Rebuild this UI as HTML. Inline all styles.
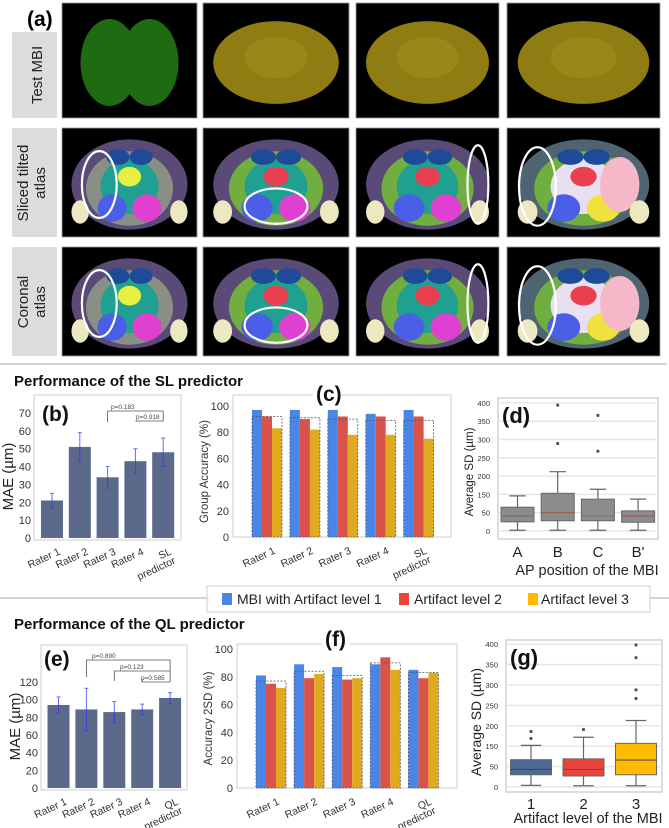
<!DOCTYPE html>
<html><head><meta charset="utf-8">
<style>
html,body{margin:0;padding:0;background:#fff;}
svg{display:block;font-family:"Liberation Sans",sans-serif;}
</style></head>
<body>
<svg id="fig" width="669" height="828" viewBox="0 0 669 828" xmlns="http://www.w3.org/2000/svg">
<!-- Panel (a) -->
<g id="panelA">
<text x="27" y="26" font-size="21" font-weight="bold">(a)</text>
<rect x="12" y="32" width="45" height="86" fill="#dcdcdc"/>
<text transform="translate(42,75) rotate(-90)" text-anchor="middle" font-size="15" fill="#222">Test MBI</text>
<rect x="12" y="128" width="45" height="109" fill="#dcdcdc"/>
<text transform="translate(28,183) rotate(-90)" text-anchor="middle" font-size="15" fill="#222">Sliced tilted</text>
<text transform="translate(45,183) rotate(-90)" text-anchor="middle" font-size="15" fill="#222">atlas</text>
<rect x="12" y="247" width="45" height="109" fill="#dcdcdc"/>
<text transform="translate(28,302) rotate(-90)" text-anchor="middle" font-size="15" fill="#222">Coronal</text>
<text transform="translate(45,302) rotate(-90)" text-anchor="middle" font-size="15" fill="#222">atlas</text>
</g>
<line x1="0" y1="364" x2="667" y2="364" stroke="#bbb" stroke-width="1.2"/>
<text x="14" y="386" font-size="15" font-weight="bold" fill="#111">Performance of the SL predictor</text>
<g id="legend">
<line x1="0" y1="598" x2="207" y2="598" stroke="#bbb" stroke-width="1.2"/>
<line x1="650" y1="598" x2="669" y2="598" stroke="#bbb" stroke-width="1.2"/>
<rect x="207" y="586" width="443" height="26" fill="#fff" stroke="#ccc"/>
<rect x="222" y="593" width="10" height="12" fill="#4a86e8"/>
<text x="237" y="604" font-size="14" fill="#222">MBI with Artifact level 1</text>
<rect x="399" y="593" width="10" height="12" fill="#e8453c"/>
<text x="414" y="604" font-size="14" fill="#222">Artifact level 2</text>
<rect x="528" y="593" width="10" height="12" fill="#ffbb00"/>
<text x="541" y="604" font-size="14" fill="#222">Artifact level 3</text>
</g>
<text x="14" y="629" font-size="15" font-weight="bold" fill="#111">Performance of the QL predictor</text>
<g id="charts"></g>
</svg>
<script>
// ---------- data ----------
const raters = ["Rater 1","Rater 2","Rater 3","Rater 4"];
const slMae = [21, 51, 34, 43, 48];
const slMaeErr = [4, 8, 6, 7, 8];
const slAccL1 = [97, 97, 97, 94, 97];
const slAccL2 = [92, 90, 92, 92, 92];
const slAccL3 = [83, 82, 78, 78, 75];
const slAccGroup = [92, 91, 90, 89, 89];
const qlMae = [94, 89, 86, 89, 102];
const qlMaeErr = [9, 24, 12, 6, 6];
const qlAccL1 = [81, 89, 87, 89, 85];
const qlAccL2 = [75, 79, 78, 94, 79];
const qlAccL3 = [72, 82, 79, 85, 83];
const qlAccGroup = [77, 84, 81, 90, 83];
const sdTickLabels = ["0","50","150","200","250","300","350","400"];
const apCats = ["A","B","C","B'"];
// box stats in tick-index units (x50): [min,q1,med,q3,max]
const apMin = [2, 2, 2, 2];
const apQ1 = [25, 28, 28, 24];
const apMed = [41, 50, 41, 41];
const apQ3 = [65, 103, 87, 55];
const apMax = [96, 162, 114, 87];
const apOut = [[], [239, 344], [218, 316], []];
const artCats = ["1","2","3"];
const artMin = [4, 3, 3];
const artQ1 = [30, 27, 30];
const artMed = [43, 43, 66];
const artQ3 = [67, 69, 107];
const artMax = [102, 122, 163];
const artOut = [[119, 136], [141], [217, 238, 317, 348]];

const NS = "http://www.w3.org/2000/svg";
const root = document.getElementById("charts");
function mk(tag, attrs, parent, txt){
  const e = document.createElementNS(NS, tag);
  for (const k in attrs) e.setAttribute(k, attrs[k]);
  if (txt !== undefined) e.textContent = txt;
  (parent || root).appendChild(e);
  return e;
}

// ---------- brain images (panel a) ----------
const pa = document.getElementById("panelA");
const cols = [[62,197],[203,349],[356,499],[507,660]];
const rows = [[3,118],[128,237],[247,356]];
rows.forEach((r, ri) => cols.forEach((c, ci) => {
  const g = mk("g", {}, pa);
  
  
  mk("rect", {x:c[0], y:r[0], width:c[1]-c[0], height:r[1]-r[0], fill:"#000", stroke:"#999", "stroke-width":0.8}, g);
  const cx = (c[0]+c[1])/2, cy = (r[0]+r[1])/2 + 2;
  const w = (c[1]-c[0])*0.43, h = (r[1]-r[0])*0.36;
  if (ri === 0) {
    const col = ci === 0 ? "#1f6b12" : "#8f7d14";
    if (ci === 0) {
      mk("ellipse", {cx:cx-20, cy:cy, rx:w*0.5, ry:h*1.05, fill:col}, g);
      mk("ellipse", {cx:cx+20, cy:cy, rx:w*0.5, ry:h*1.05, fill:col}, g);
    } else {
      mk("ellipse", {cx:cx, cy:cy, rx:w*1.0, ry:h*1.0, fill:col}, g);
      mk("ellipse", {cx:cx, cy:cy-5, rx:w*0.5, ry:h*0.5, fill:"#a08c18", opacity:0.7}, g);
    }
  } else {
    mk("ellipse", {cx:cx, cy:cy, rx:w, ry:h*1.15, fill: ci===3 ? "#4e6470" : "#5a4a78"}, g);
    mk("ellipse", {cx:cx, cy:cy+4, rx:w*0.75, ry:h*0.95, fill: ci===0 ? "#8a8f86" : "#6fae3f"}, g);
    mk("ellipse", {cx:cx, cy:cy+2, rx:w*0.5, ry:h*0.7, fill: ci===3 ? "#e8dff0" : "#1fa090"}, g);
    mk("ellipse", {cx:cx-w*0.3, cy:cy+h*0.6, rx:w*0.25, ry:h*0.35, fill:"#4a5ee8"}, g);
    mk("ellipse", {cx:cx+w*0.3, cy:cy+h*0.6, rx:w*0.25, ry:h*0.35, fill: ci===3 ? "#f0e040" : "#e040d0"}, g);
    mk("ellipse", {cx:cx, cy:cy-h*0.2, rx:w*0.2, ry:h*0.25, fill: ci===0 ? "#e6f040" : "#e84050"}, g);
    mk("ellipse", {cx:cx-w*0.2, cy:cy-h*0.7, rx:w*0.2, ry:h*0.2, fill:"#1e4a9a"}, g);
    mk("ellipse", {cx:cx+w*0.2, cy:cy-h*0.7, rx:w*0.2, ry:h*0.2, fill:"#1e4a9a"}, g);
    if (ci === 3) mk("ellipse", {cx:cx+w*0.55, cy:cy, rx:w*0.3, ry:h*0.7, fill:"#f6b8c8"}, g);
    mk("ellipse", {cx:cx-w*0.85, cy:cy+h*0.7, rx:w*0.15, ry:h*0.3, fill:"#ece8c0"}, g);
    mk("ellipse", {cx:cx+w*0.85, cy:cy+h*0.7, rx:w*0.15, ry:h*0.3, fill:"#ece8c0"}, g);
    // white highlight ellipse
    const ell = [[-0.52,0,0.3,0.85],[0,0.55,0.5,0.45],[0.82,0,0.17,1.0],[-0.7,0.05,0.28,1.0]][ci];
    mk("ellipse", {cx:cx+w*ell[0], cy:cy+h*ell[1], rx:w*ell[2], ry:h*ell[3], fill:"none", stroke:"#fff", "stroke-width":2.2}, g);
  }
}));

// ---------- bar chart (MAE) ----------
function maeChart(o){
  const g = mk("g", {});
  
  
  const y = v => o.y0 - (v - 0) * o.pxPer;
  mk("rect", {x:o.fx0, y:o.fy0, width:o.fx1-o.fx0, height:o.y0-o.fy0+2, fill:"none", stroke:"#ccc", "stroke-width":1}, g);
  o.ticks.forEach(t => {
    const tl = mk("text", {x:o.fx0-3, y:y(t)+4, "text-anchor":"end", "font-size":11, fill:"#333"}, g, String(t));
    
    
  });
  const yt = mk("text", {transform:`translate(${o.fx0-21},${(o.fy0+o.y0)/2+10}) rotate(-90)`, "text-anchor":"middle", "font-size":15, fill:"#222"}, g, "MAE (µm)");
  
  
  o.vals.forEach((v, i) => {
    const cx = o.c0 + i * o.step;
    const b = mk("rect", {x:cx-11, y:y(v), width:22, height:o.y0-y(v), fill:"#5b6a8a"}, g);
    
    
    const e = o.errs[i];
    const el = mk("path", {d:`M${cx},${y(v+e)}V${y(v-e)}M${cx-2},${y(v+e)}H${cx+2}M${cx-2},${y(v-e)}H${cx+2}`, stroke:"#3535ee", "stroke-width":1, fill:"none", opacity:0.75}, g);
    
    
    const lines = o.cats[i].split("\n");
    lines.forEach((ln, li) => {
      const t = mk("text", {transform:`translate(${cx+9+li*4},${o.y0+16+li*9}) rotate(-25)`, "text-anchor":"end", "font-size":10.5, fill:"#333"}, g, ln);
      
      
    });
  });
  const lt = mk("text", {x:o.lx, y:o.ly, "font-size":21, "font-weight":"bold", fill:"#111"}, g, o.letter);
  
  
  o.brackets.forEach(br => {
    const x1 = o.c0 + br.from*o.step, x2 = o.c0 + br.to*o.step;
    const p = mk("path", {d:`M${x1},${br.y+br.dl}V${br.y}H${x2}V${br.y+br.dr}`, stroke:"#555", fill:"none", "stroke-width":0.8}, g);
    
    
    const t = mk("text", {x:br.tx, y:br.y-2, "font-size":6.5, fill:"#444"}, g, br.label);
    
    
  });
}
maeChart({name:"chart-b-sl-mae", vals:slMae, errs:slMaeErr, cats:[...raters,"SL\npredictor"],
  fx0:34, fx1:181, fy0:395, y0:538, pxPer:1.786, c0:52, step:27.8, ticks:[0,10,20,30,40,50,60,70],
  letter:"(b)", lx:42, ly:421,
  brackets:[{from:2,to:4,y:411,dl:11,dr:0,label:"p=0.183",tx:111},{from:3,to:4,y:421,dl:0,dr:-10,label:"p=0.918",tx:136}]});
maeChart({name:"chart-e-ql-mae", vals:qlMae, errs:qlMaeErr, cats:[...raters,"QL\npredictor"],
  fx0:41, fx1:187, fy0:645, y0:788, pxPer:0.883, c0:58.5, step:27.9, ticks:[0,20,40,60,80,100,120],
  letter:"(e)", lx:44, ly:666,
  brackets:[{from:1,to:4,y:660,dl:17,dr:22,label:"p=0.890",tx:92},{from:2,to:4,y:671,dl:10,dr:0,label:"p=0.123",tx:120},{from:3,to:4,y:682,dl:-3,dr:0,label:"p=0.585",tx:141}]});

// ---------- grouped accuracy chart ----------
function accChart(o){
  const g = mk("g", {});
  
  
  const y = v => o.y0 - v * (o.y0 - o.y100) / 100;
  mk("rect", {x:o.fx0, y:o.fy0, width:o.fx1-o.fx0, height:o.y0-o.fy0, fill:"none", stroke:"#ccc", "stroke-width":1}, g);
  [0,20,40,60,80,100].forEach(t => {
    const tl = mk("text", {x:o.fx0-4, y:y(t)+4, "text-anchor":"end", "font-size":11, fill:"#333"}, g, String(t));
    
    
  });
  const yt = mk("text", {transform:`translate(${o.fx0-25},${(o.y100+o.y0)/2}) rotate(-90)`, "text-anchor":"middle", "font-size":11.5, fill:"#333"}, g, o.ytitle);
  
  
  const series = [[o.l1,"#4a86e8","level1"],[o.l2,"#d9534a","level2"],[o.l3,"#e0aa20","level3"]];
  o.cats.forEach((c, i) => {
    const gx = o.g0 + i * o.step;
    series.forEach((s, si) => {
      const v = s[0][i];
      const b = mk("rect", {x:gx + si*10, y:y(v), width:10, height:o.y0-y(v), fill:s[1]}, g);
      
      
    });
    const d = mk("rect", {x:gx, y:y(o.grp[i]), width:30, height:o.y0-y(o.grp[i]), fill:"none", stroke:"#555", "stroke-width":0.8, "stroke-dasharray":"2,1.5"}, g);
    
    
    c.split("\n").forEach((ln, li) => {
      const t = mk("text", {transform:`translate(${gx+24+li*4},${o.y0+16+li*9}) rotate(-25)`, "text-anchor":"end", "font-size":10.5, fill:"#333"}, g, ln);
      
      
    });
  });
  mk("rect", {x:o.lx-3, y:o.fy0-3, width:28, height:6, fill:"#fff"}, g);
  const lt = mk("text", {x:o.lx, y:o.ly, "font-size":21, "font-weight":"bold", fill:"#111"}, g, o.letter);
  
  
}
accChart({name:"chart-c-sl-accuracy", l1:slAccL1, l2:slAccL2, l3:slAccL3, grp:slAccGroup, cats:[...raters,"SL\npredictor"],
  fx0:233, fx1:451, fy0:395, y0:537, y100:406, g0:252, step:37.9, ytitle:"Group Accuracy (%)", letter:"(c)", lx:316, ly:401});
accChart({name:"chart-f-ql-accuracy", l1:qlAccL1, l2:qlAccL2, l3:qlAccL3, grp:qlAccGroup, cats:[...raters,"QL\npredictor"],
  fx0:237, fx1:457, fy0:644, y0:788, y100:649, g0:256, step:38.1, ytitle:"Accuracy 2SD (%)", letter:"(f)", lx:325, ly:646});

// ---------- box plots ----------
function boxChart(o){
  const g = mk("g", {});
  
  
  const y = v => o.y0 - v / 50 * o.tickStep;
  mk("rect", {x:o.fx0, y:o.fy0, width:o.fx1-o.fx0, height:o.fy1-o.fy0, fill:"#fff", stroke:"#bbb", "stroke-width":1}, g);
  sdTickLabels.forEach((lab, i) => {
    const yy = y(i*50);
    mk("line", {x1:o.fx0, x2:o.fx1, y1:yy, y2:yy, stroke:"#e6e6e6", "stroke-width":1.5}, g);
    const t = mk("text", {x:o.fx0-8, y:yy+3, "text-anchor":"end", "font-size":7.5, fill:"#333"}, g, lab);
    
    
  });
  const yt = mk("text", {transform:`translate(${o.fx0-25},${o.ytY}) rotate(-90)`, "text-anchor":"middle", "font-size":o.ytSize, fill:"#222"}, g, "Average SD (µm)");
  
  
  o.cats.forEach((c, i) => {
    const cx = o.c0 + i*o.step, hw = o.bw/2;
    const w = mk("path", {d:`M${cx},${y(o.mn[i])}V${y(o.q1[i])}M${cx},${y(o.q3[i])}V${y(o.mx[i])}M${cx-hw/2},${y(o.mn[i])}H${cx+hw/2}M${cx-hw/2},${y(o.mx[i])}H${cx+hw/2}`, stroke:"#666", "stroke-width":1.2, fill:"none"}, g);
    
    
    const b = mk("rect", {x:cx-hw, y:y(o.q3[i]), width:o.bw, height:y(o.q1[i])-y(o.q3[i]), fill:o.colors[i], stroke:"#666", "stroke-width":1}, g);
    
    
    mk("line", {x1:cx-hw, x2:cx+hw, y1:y(o.md[i]), y2:y(o.md[i]), stroke:o.medCol[i], "stroke-width":1.2}, g);
    o.out[i].forEach(v => {
      const p = mk("circle", {cx:cx, cy:y(v), r:1.6, fill:"#555"}, g);
      
      
    });
    const t = mk("text", {x:cx, y:o.labY, "text-anchor":"middle", "font-size":15, fill:"#222"}, g, c);
    
    
  });
  const xt = mk("text", {x:o.xtX, y:o.xtY, "text-anchor":"middle", "font-size":14.5, fill:"#222"}, g, o.xtitle);
  
  
  const lt = mk("text", {x:o.lx, y:o.ly, "font-size":22, "font-weight":"bold", fill:"#111"}, g, o.letter);
  
  
}
boxChart({name:"chart-d-ap-position-sd", cats:apCats, mn:apMin, q1:apQ1, md:apMed, q3:apQ3, mx:apMax, out:apOut,
  colors:["#8c8c8c","#8c8c8c","#8c8c8c","#8c8c8c"], medCol:["#6a6f8a","#9a5a50","#7a7a7a","#9a5a50"],
  fx0:498, fx1:658, fy0:398, fy1:539, y0:531, tickStep:18.3, c0:517.5, step:40.2, bw:33,
  ytY:472, ytSize:11.5, labY:557, xtitle:"AP position of the MBI", xtX:587, xtY:575, letter:"(d)", lx:502, ly:423});
boxChart({name:"chart-g-artifact-level-sd", cats:artCats, mn:artMin, q1:artQ1, md:artMed, q3:artQ3, mx:artMax, out:artOut,
  colors:["#4f6a94","#e8453c","#ffbb00"], medCol:["#444","#555","#555"],
  fx0:506, fx1:662, fy0:640, fy1:792, y0:787, tickStep:20.4, c0:531, step:52.5, bw:41,
  ytY:722, ytSize:14, labY:809, xtitle:"Artifact level of the MBI", xtX:588, xtY:823, letter:"(g)", lx:510, ly:665});
</script>
</body></html>
